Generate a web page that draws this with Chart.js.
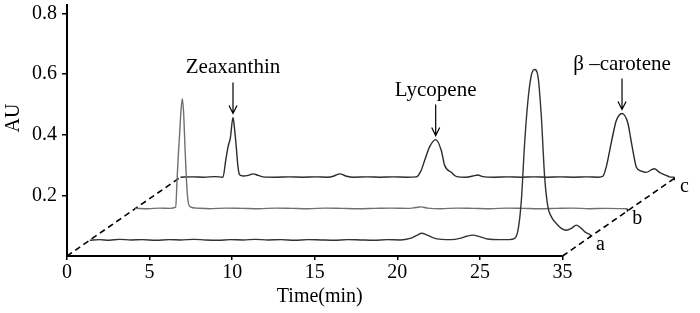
<!DOCTYPE html>
<html>
<head>
<meta charset="utf-8">
<script src="https://cdn.jsdelivr.net/npm/chart.js@4"></script>
<style>
html, body { margin: 0; padding: 0; background: #fff; }
</style>
</head>
<body>
<canvas id="c" width="700" height="313"></canvas>
<script>
// samples, front to back
var sampleNames = ['a', 'b', 'c'];
var sampleDepth = [0.2, 0.6, 1.0];

// [time, AU] for each trace, time read on the trace's own axis
var traceA = [[0,0.0],[0.6,0.002],[1.2,0.0],[1.8,0.003],[2.5,0.001],[3.2,0.002],[4.0,0.0],[4.8,0.002],[5.5,0.001],[6.3,0.003],
    [7.0,0.001],[7.8,0.0],[8.5,0.002],[9.3,0.001],[10.0,0.003],[10.8,0.001],[11.6,0.002],[12.4,0.0],[13.2,0.002],[14.0,0.001],
    [14.8,0.0],[15.6,0.002],[16.4,0.001],[17.2,0.0],[18.0,0.002],[18.8,0.001],[19.4,0.006],[19.8,0.016],[20.1,0.023],[20.4,0.018],
    [20.8,0.008],[21.3,0.003],[21.9,0.002],[22.4,0.006],[22.8,0.013],[23.2,0.017],[23.6,0.012],[24.1,0.004],[24.8,0.002],[25.4,0.002],
    [25.73,0.006],[25.93,0.033],[26.13,0.13],[26.33,0.32],[26.53,0.46],[26.74,0.545],[26.94,0.563],[27.14,0.54],[27.34,0.41],[27.54,0.21],
    [27.74,0.11],[27.95,0.077],[28.25,0.055],[28.55,0.039],[28.86,0.033],[29.16,0.039],[29.46,0.05],[29.76,0.039],[30.07,0.024],[30.31,0.019]];
var traceB = [[0,0.001],[0.8,0.0],[1.5,0.002],[2.1,0.001],[2.46,0.005],[2.54,0.094],[2.62,0.18],[2.70,0.25],[2.78,0.325],[2.86,0.363],
    [2.94,0.314],[3.02,0.204],[3.11,0.094],[3.20,0.028],[3.35,0.006],[3.7,0.002],[4.5,0.0],[5.5,0.002],[6.5,0.001],[7.5,0.0],
    [8.5,0.002],[9.5,0.001],[10.5,0.0],[11.5,0.002],[12.5,0.001],[13.5,0.0],[14.5,0.001],[15.5,0.002],[16.5,0.001],[17.0,0.004],
    [17.3,0.006],[17.7,0.002],[18.5,0.0],[19.5,0.002],[20.5,0.001],[21.5,0.0],[22.5,0.002],[23.5,0.001],[24.5,0.0],[25.5,0.001],
    [26.5,0.002],[27.5,0.0],[28.5,0.001],[29.8,0.0]];
var traceC = [[0,0.0],[0.7,0.001],[1.4,0.0],[2.1,0.002],[2.57,0.0],[2.74,0.056],[2.88,0.1],[3.02,0.13],[3.18,0.197],[3.28,0.155],
    [3.38,0.098],[3.48,0.035],[3.58,0.008],[3.8,0.004],[4.1,0.006],[4.4,0.011],[4.7,0.006],[5.0,0.001],[5.8,0.0],[6.6,0.001],
    [7.4,0.0],[8.2,0.001],[8.9,0.0],[9.3,0.004],[9.64,0.011],[10.0,0.004],[10.5,0.0],[11.3,0.001],[12.1,0.0],[12.9,0.001],
    [13.7,0.0],[14.28,0.001],[14.55,0.02],[14.78,0.055],[15.08,0.1],[15.45,0.124],[15.79,0.088],[15.99,0.039],[16.4,0.016],[16.72,0.002],
    [17.3,0.0],[17.7,0.004],[18.0,0.007],[18.3,0.002],[19.0,0.0],[19.8,0.001],[20.6,0.0],[21.4,0.001],[22.2,0.0],[23.0,0.001],
    [23.8,0.0],[24.6,0.001],[25.3,0.0],[25.57,0.003],[25.78,0.035],[25.98,0.087],[26.18,0.14],[26.38,0.186],[26.73,0.21],[27.09,0.177],
    [27.25,0.13],[27.39,0.087],[27.6,0.033],[27.9,0.02],[28.2,0.016],[28.5,0.024],[28.7,0.028],[28.9,0.02],[29.1,0.013],[29.4,0.006],
    [29.6,0.001],[29.9,0.0]];

var xTickValues = [0, 5, 10, 15, 20, 25, 30];
var xTickLabels = ['0', '5', '10', '15', '20', '25', '35'];
var yTickValues = [0.2, 0.4, 0.6, 0.8];

// peaks marked on trace c
var peakNames = ['Zeaxanthin', 'Lycopene', 'β –carotene'];
var peakTimes = [3.18, 15.45, 26.73];

var SERIF = '"Liberation Serif", "DejaVu Serif", serif';
Chart.defaults.font.family = SERIF;
Chart.defaults.font.size = 20;
Chart.defaults.color = '#000';

// oblique depth axis: full depth moves this much in time / AU
var DEPTH_X = 6.87, DEPTH_Y = 0.26;
var AXIS_END = xTickValues[xTickValues.length - 1];

function project(trace, d) {
    return trace.map(function(p) { return { x: p[0] + d * DEPTH_X, y: p[1] + d * DEPTH_Y }; });
}

var traces = [traceA, traceB, traceC];
var traceColors = ['#333333', '#707070', '#2a2a2a'];
var datasets = traces.map(function(t, i) {
    return {
        data: project(t, sampleDepth[i]),
        borderColor: traceColors[i], borderWidth: 1.4,
        pointRadius: 0, cubicInterpolationMode: 'monotone', clip: false
    };
});
// dashed depth axes and the solid time axis
datasets.push({ data: [{x: 0, y: 0}, {x: DEPTH_X, y: DEPTH_Y}], borderColor: '#000', borderWidth: 1.6, borderDash: [6, 4], pointRadius: 0, clip: false });
datasets.push({ data: [{x: AXIS_END, y: 0}, {x: AXIS_END + DEPTH_X, y: DEPTH_Y}], borderColor: '#000', borderWidth: 1.6, borderDash: [6, 4], pointRadius: 0, clip: false });
datasets.push({ data: [{x: 0, y: 0}, {x: AXIS_END, y: 0}], borderColor: '#000', borderWidth: 2, pointRadius: 0, clip: false });

var decorations = {
    id: 'decorations',
    afterDatasetsDraw: function(chart) {
        var ctx = chart.ctx, xs = chart.scales.x;
        ctx.save();
        ctx.fillStyle = '#000';
        ctx.strokeStyle = '#000';
        ctx.font = '20px ' + SERIF;

        // axis titles
        ctx.textAlign = 'center';
        ctx.textBaseline = 'middle';
        ctx.fillText('Time(min)', xs.getPixelForValue(15) + 5, 297);
        ctx.save();
        ctx.translate(14, 118);
        ctx.rotate(-Math.PI / 2);
        ctx.fillText('AU', 0, 0);
        ctx.restore();

        // sample labels at the end of each trace
        traces.forEach(function(t, i) {
            var pts = chart.getDatasetMeta(i).data;
            var last = pts[pts.length - 1];
            ctx.lineWidth = 1.2;
            ctx.beginPath();
            ctx.moveTo(last.x, last.y);
            ctx.lineTo(last.x, last.y + 3);
            ctx.stroke();
            ctx.fillText(sampleNames[i], last.x + 10, last.y + 10);
        });

        // peak arrows on trace c
        var meta = chart.getDatasetMeta(2);
        var cData = datasets[2].data;
        ctx.font = '21px ' + SERIF;
        peakTimes.forEach(function(pt, k) {
            var best = -1;
            for (var j = 0; j < cData.length; j++) {
                var lt = cData[j].x - DEPTH_X;
                if (Math.abs(lt - pt) < 0.5 && (best < 0 || cData[j].y > cData[best].y)) best = j;
            }
            var el = meta.data[best];
            var tipY = el.y - 4, topY = el.y - 35;
            ctx.lineWidth = 1.2;
            ctx.beginPath();
            ctx.moveTo(el.x, topY);
            ctx.lineTo(el.x, tipY);
            ctx.moveTo(el.x - 4, tipY - 8);
            ctx.lineTo(el.x, tipY);
            ctx.lineTo(el.x + 4, tipY - 8);
            ctx.stroke();
            ctx.textBaseline = 'alphabetic';
            ctx.fillText(peakNames[k], el.x, topY - 9);
        });
        ctx.restore();
    }
};

new Chart(document.getElementById('c'), {
    type: 'line',
    data: { datasets: datasets },
    options: {
        responsive: false,
        animation: false,
        layout: { padding: { top: 5, right: 2, left: 0, bottom: 0 } },
        plugins: { legend: { display: false }, tooltip: { enabled: false } },
        scales: {
            x: {
                type: 'linear', min: 0, max: 38.2,
                border: { display: false },
                grid: { drawOnChartArea: false, tickLength: 4, color: '#000', lineWidth: 1.5 },
                ticks: {
                    padding: 1, maxRotation: 0, autoSkip: false,
                    callback: function(v) { var i = xTickValues.indexOf(v); return i < 0 ? '' : xTickLabels[i]; }
                },
                afterBuildTicks: function(s) { s.ticks = xTickValues.map(function(v) { return { value: v }; }); },
                afterFit: function(s) { s.height = 57; s.paddingLeft = 0; s.paddingRight = 0; }
            },
            y: {
                min: 0, max: 0.828,
                border: { display: true, color: '#000', width: 2 },
                grid: { drawOnChartArea: false, tickLength: 5, color: '#000', lineWidth: 1.5 },
                ticks: {
                    padding: 5,
                    callback: function(v) { return v.toFixed(1); }
                },
                afterBuildTicks: function(s) { s.ticks = yTickValues.map(function(v) { return { value: v }; }); },
                afterFit: function(s) { s.width = 67; s.paddingTop = 0; s.paddingBottom = 0; }
            }
        }
    },
    plugins: [decorations]
});
</script>
</body>
</html>
